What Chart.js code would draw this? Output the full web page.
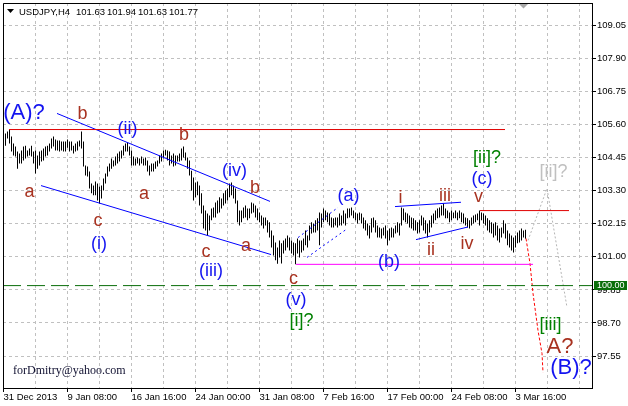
<!DOCTYPE html>
<html><head><meta charset="utf-8">
<script src="https://cdn.jsdelivr.net/npm/chart.js@4.4.1/dist/chart.umd.min.js"></script>
<style>html,body{margin:0;padding:0;background:#fff;overflow:hidden}canvas{display:block}</style>
</head><body>
<canvas id="c" width="628" height="406"></canvas>
<script>
// ---------- DATA ----------
const headerSymbol = 'USDJPY,H4';
const headerOHLC = ['101.63', '101.94', '101.63', '101.77'];

const barHighs = [
105.29,105.36,105.43,105.19,104.94,104.84,104.67,104.60,104.70,104.84,
104.87,104.70,104.77,104.87,104.67,104.70,104.53,104.67,104.70,104.77,
104.84,104.87,104.94,105.12,105.19,105.08,105.05,105.05,105.01,105.01,
105.01,105.08,105.01,105.01,104.87,104.94,105.01,105.05,105.36,105.01,
104.18,104.14,103.97,103.55,103.48,103.62,103.55,103.45,103.48,103.73,
103.90,104.14,104.25,104.42,104.35,104.49,104.60,104.67,104.70,104.87,
104.94,104.98,104.84,104.70,104.49,104.42,104.46,104.42,104.49,104.42,
104.46,104.35,104.18,104.25,104.25,104.32,104.35,104.53,104.60,104.70,
104.73,104.70,104.67,104.53,104.60,104.53,104.53,104.60,104.77,104.84,
104.63,104.46,104.35,104.00,103.76,103.59,103.62,103.48,103.21,102.79,
102.61,102.51,102.44,102.68,102.72,102.89,102.96,103.07,103.03,103.21,
103.31,103.38,103.55,103.59,103.48,103.38,102.96,102.61,102.61,102.72,
102.79,102.68,102.68,102.89,102.86,102.79,102.68,102.54,102.44,102.37,
102.37,102.27,102.20,101.92,101.74,101.50,101.33,101.57,101.47,101.57,
101.64,101.74,101.67,101.57,101.50,101.47,101.64,101.57,101.57,101.64,
101.92,101.74,102.09,102.20,102.16,102.27,102.34,102.54,102.51,102.68,
102.61,102.54,102.51,102.37,102.34,102.37,102.37,102.51,102.44,102.61,
102.51,102.68,102.68,102.72,102.61,102.54,102.51,102.54,102.51,102.37,
102.27,102.16,102.09,102.34,102.37,102.27,102.09,102.02,101.99,102.02,
102.09,101.92,101.99,102.02,101.99,102.09,102.20,102.16,102.72,102.68,
102.54,102.51,102.44,102.37,102.34,102.27,102.20,102.27,102.44,102.37,
102.27,102.16,102.27,102.44,102.51,102.61,102.68,102.72,102.79,102.86,
102.68,102.61,102.54,102.61,102.54,102.61,102.54,102.61,102.54,102.51,
102.37,102.34,102.27,102.37,102.44,102.47,102.51,102.61,102.54,102.51,
102.44,102.34,102.27,102.20,102.16,102.20,102.09,101.99,102.02,102.27,
102.16,101.92,101.81,101.74,101.67,101.74,101.85,101.92,101.99,101.92,101.94
];
const barLows = [
104.87,105.12,104.94,104.67,104.53,104.49,104.07,104.25,104.25,104.35,
104.42,104.49,104.53,104.49,104.25,103.90,104.07,104.18,104.32,104.35,
104.49,104.53,104.67,104.77,104.84,104.70,104.70,104.67,104.70,104.67,
104.67,104.80,104.67,104.70,104.60,104.67,104.70,104.84,104.77,104.14,
103.83,103.80,103.38,103.21,103.14,103.14,102.96,102.86,103.03,103.31,
103.55,103.80,103.97,104.07,104.14,104.18,104.25,104.32,104.42,104.53,
104.67,104.67,104.53,104.18,104.18,104.18,104.25,104.18,104.25,104.18,
104.18,103.97,103.83,103.97,103.97,104.07,104.14,104.25,104.32,104.42,
104.53,104.35,104.18,104.25,104.14,104.18,104.32,104.32,104.35,104.46,
104.35,104.07,103.83,103.31,102.96,103.07,103.14,102.79,102.51,101.99,
101.92,101.74,101.92,102.27,102.37,102.37,102.51,102.54,102.68,102.79,
102.86,102.96,103.07,103.14,103.03,102.86,102.20,102.09,102.20,102.34,
102.37,102.27,102.34,102.51,102.54,102.37,102.27,102.20,102.09,101.99,
102.09,101.85,101.67,101.33,101.05,100.88,100.76,100.98,100.77,101.12,
101.22,101.33,101.22,101.12,101.05,100.74,101.12,100.98,101.15,101.22,
101.40,101.33,101.57,101.81,101.85,101.85,101.92,101.40,102.02,102.20,
102.27,102.20,102.09,102.02,102.02,102.09,102.02,102.09,102.09,102.16,
102.09,102.34,102.37,102.44,102.34,102.27,102.16,102.27,102.16,101.99,
101.92,101.74,101.64,101.85,102.02,101.85,101.67,101.67,101.64,101.74,
101.64,101.40,101.57,101.67,101.67,101.81,101.85,101.74,102.09,102.27,
102.20,102.16,102.02,101.99,101.92,101.92,101.81,101.85,102.09,101.92,
101.81,101.67,101.85,102.02,102.16,102.27,102.34,102.37,102.44,102.44,
102.34,102.34,102.20,102.27,102.34,102.34,102.27,102.34,102.20,102.16,
102.09,102.02,101.99,102.09,102.16,102.20,102.27,102.09,102.27,102.16,
102.09,101.92,101.85,101.81,101.67,101.74,101.57,101.50,101.67,101.81,
101.64,101.40,101.33,101.22,101.15,101.33,101.47,101.50,101.57,101.67,101.63
];

const yTickValues = [97.55, 98.70, 99.85, 101.00, 102.15, 103.30, 104.45, 105.60, 106.75, 107.90, 109.05];
const xTickLabels = ['31 Dec 2013','','9 Jan 08:00','','16 Jan 16:00','','24 Jan 00:00','','31 Jan 08:00','',
                     '7 Feb 16:00','','17 Feb 00:00','','24 Feb 08:00','','3 Mar 16:00','',''];

// trend / level lines: [barIndex, price]
const redTopLevel    = [[2.75,105.43],[250.75,105.43]];
const redLevel       = [[238.25,102.61],[282.75,102.61]];
const magentaLevel   = [[146.25,100.74],[264.75,100.74]];
const greenLevel     = [[-0.25,100.00],[294.25,100.00]];
const channelUpper   = [[26.75,105.99],[133.25,102.93]];
const channelLower   = [[18.75,103.48],[133.75,101.08]];
const waveAUpper     = [[147.25,101.67],[167.25,102.72]];
const waveALower     = [[151.75,100.98],[171.25,101.95]];
const triangleUpper  = [[195.75,102.75],[228.75,102.90]];
const triangleLower  = [[206.25,101.60],[232.25,102.04]];
const redForecast    = [[261.25,101.64],[263.25,100.77],[264.75,99.73],[267.25,98.44],[269.25,97.64],[269.75,96.98]];
const grayForecast   = [[262.25,101.57],[271.75,103.38],[281.75,99.24]];

// wave labels: [text, barIndex, price]
const bigBlueLabels  = [['(A)?',10.25,105.81],['(B)?',283.75,96.91]];
const bigBrownLabels = [['A?',278.25,97.64]];
const brownLabels = [['b',39.5,105.81],['b',90.25,105.08],['a',13,103.07],['c',47.25,102.09],['a',70.25,103.03],
  ['c',101.25,100.98],['b',125.75,103.21],['a',121.25,101.22],['c',145,100.04],['i',198.5,102.86],
  ['ii',213.75,101.05],['iii',220.75,102.96],['iv',231.75,101.29],['v',237.5,102.90]];
const blueLabels = [['(ii)',62,105.29],['(i)',47.75,101.29],['(iii)',103.75,100.32],['(iv)',115.5,103.80],
  ['(v)',146.25,99.32],['(a)',172.5,102.93],['(b)',192.75,100.66],['(c)',239.25,103.54]];
const greenLabels = [['[i]?',149,98.58],['[ii]?',241.75,104.28],['[iii]',273.5,98.45]];
const grayLabels  = [['[ii]?',275,103.78]];
const levelTag = 100.00;

// ---------- CHART ----------
const FONT = '"Liberation Sans", Arial, sans-serif';
function seg(points, color, dash){
  return {type:'line', data: points.map(p=>({x:p[0], y:p[1]})), borderColor:color, borderWidth:1,
          borderDash:dash, pointRadius:0, pointHoverRadius:0, fill:false, tension:0, order:1};
}

const overlay = {
  id:'overlay',
  afterDatasetsDraw(chart){
    const {ctx, scales:{x, y}} = chart;
    const groups = [
      [brownLabels, 18, '#a83220'],
      [blueLabels, 18, '#1414f0'],
      [greenLabels, 18, '#008000'],
      [grayLabels, 18, '#c0c0c0'],
      [bigBlueLabels, 22, '#1414f0'],
      [bigBrownLabels, 22, '#a83220']
    ];
    ctx.save();
    ctx.textAlign = 'center';
    ctx.textBaseline = 'alphabetic';
    for (const [list, size, color] of groups){
      ctx.font = size + 'px ' + FONT;
      ctx.fillStyle = color;
      for (const [t, v, p] of list) ctx.fillText(t, x.getPixelForValue(v), y.getPixelForValue(p));
    }
    ctx.restore();
  },
  afterDraw(chart){
    const {ctx, chartArea:a, scales:{y}} = chart;
    ctx.save();
    // frame
    ctx.strokeStyle = '#000'; ctx.lineWidth = 1;
    ctx.beginPath();
    ctx.moveTo(a.left + 0.5, a.bottom); ctx.lineTo(a.left + 0.5, a.top + 0.5); ctx.lineTo(a.right, a.top + 0.5);
    ctx.stroke();
    // header
    ctx.fillStyle = '#000';
    ctx.beginPath(); ctx.moveTo(7,9); ctx.lineTo(14,9); ctx.lineTo(10.5,13); ctx.closePath(); ctx.fill();
    ctx.font = '9.5px ' + FONT; ctx.textAlign = 'left'; ctx.textBaseline = 'alphabetic';
    ctx.fillText(headerSymbol, 19, 15);
    const hx = [76, 107, 138, 169];
    headerOHLC.forEach((t,i)=>ctx.fillText(t, hx[i], 15));
    // chart shift marker
    ctx.fillStyle = '#a8a8a8';
    ctx.beginPath(); ctx.moveTo(519,4); ctx.lineTo(528,4); ctx.lineTo(523.5,8.5); ctx.closePath(); ctx.fill();
    // watermark
    ctx.fillStyle = '#101030';
    ctx.font = '12px "Liberation Serif", "Times New Roman", serif';
    ctx.fillText('forDmitry@yahoo.com', 13, 374);
    // level tag on axis
    const yp = Math.round(y.getPixelForValue(levelTag));
    ctx.fillStyle = '#0a6e0a';
    ctx.fillRect(594, yp - 5, 33, 9);
    ctx.fillStyle = '#fff';
    ctx.font = '9px ' + FONT; ctx.textBaseline = 'middle';
    ctx.fillText(levelTag.toFixed(2), 597, yp);
    ctx.restore();
  }
};

new Chart(document.getElementById('c'), {
  type:'bar',
  data:{datasets:[
    {type:'bar', data: barHighs.map((h,i)=>({x:i+1, y:[barLows[i], h]})), backgroundColor:'#000',
     borderWidth:0, inflateAmount:0, barThickness:1, order:10},
    seg(redTopLevel, '#e00000', []),
    seg(redLevel, '#e00000', []),
    seg(magentaLevel, '#ff00ff', []),
    seg(greenLevel, '#0a6e0a', [18,6]),
    seg(channelUpper, '#0000ff', []),
    seg(channelLower, '#0000ff', []),
    seg(waveAUpper, '#0000ff', [2,3]),
    seg(waveALower, '#0000ff', [2,3]),
    seg(triangleUpper, '#0000ff', []),
    seg(triangleLower, '#0000ff', []),
    seg(redForecast, '#ff0000', [3,2]),
    seg(grayForecast, '#b4b4b4', [2,2])
  ]},
  options:{
    responsive:false, animation:false, devicePixelRatio:1,
    layout:{padding:{left:3, top:3, right:0, bottom:0}},
    plugins:{legend:{display:false}, tooltip:{enabled:false}},
    scales:{
      x:{type:'linear', min:-0.25, max:294.25, offset:false, position:'bottom',
        grid:{color:'#c0c0c0', offset:false, drawTicks:true, tickLength:4,
              tickColor: c => (xTickLabels[c.index] ? '#000' : 'rgba(0,0,0,0)')},
        border:{display:true, color:'#000', width:1, dash:[3,3]},
        ticks:{autoSkip:false, maxRotation:0, minRotation:0, align:'start', padding:0, color:'#000',
               font:{family:FONT, size:9.5}, callback:(v,i)=>xTickLabels[i]},
        afterBuildTicks: s => { s.ticks = xTickLabels.map((_,i)=>({value:i*16})); },
        afterFit: s => { s.height = 18; s.paddingLeft = 0; s.paddingRight = 0; }
      },
      y:{type:'linear', position:'right', min:96.437, max:109.833,
        grid:{color:'#c0c0c0', drawTicks:true, tickLength:4, tickColor:'#000'},
        border:{display:true, color:'#000', width:1, dash:[3,3]},
        ticks:{padding:1, color:'#000', font:{family:FONT, size:9.5}, callback: v => Number(v).toFixed(2)},
        afterBuildTicks: s => { s.ticks = yTickValues.map(v=>({value:v})); },
        afterFit: s => { s.width = 36; s.paddingTop = 0; s.paddingBottom = 0; }
      }
    }
  },
  plugins:[overlay]
});
</script>
</body></html>
